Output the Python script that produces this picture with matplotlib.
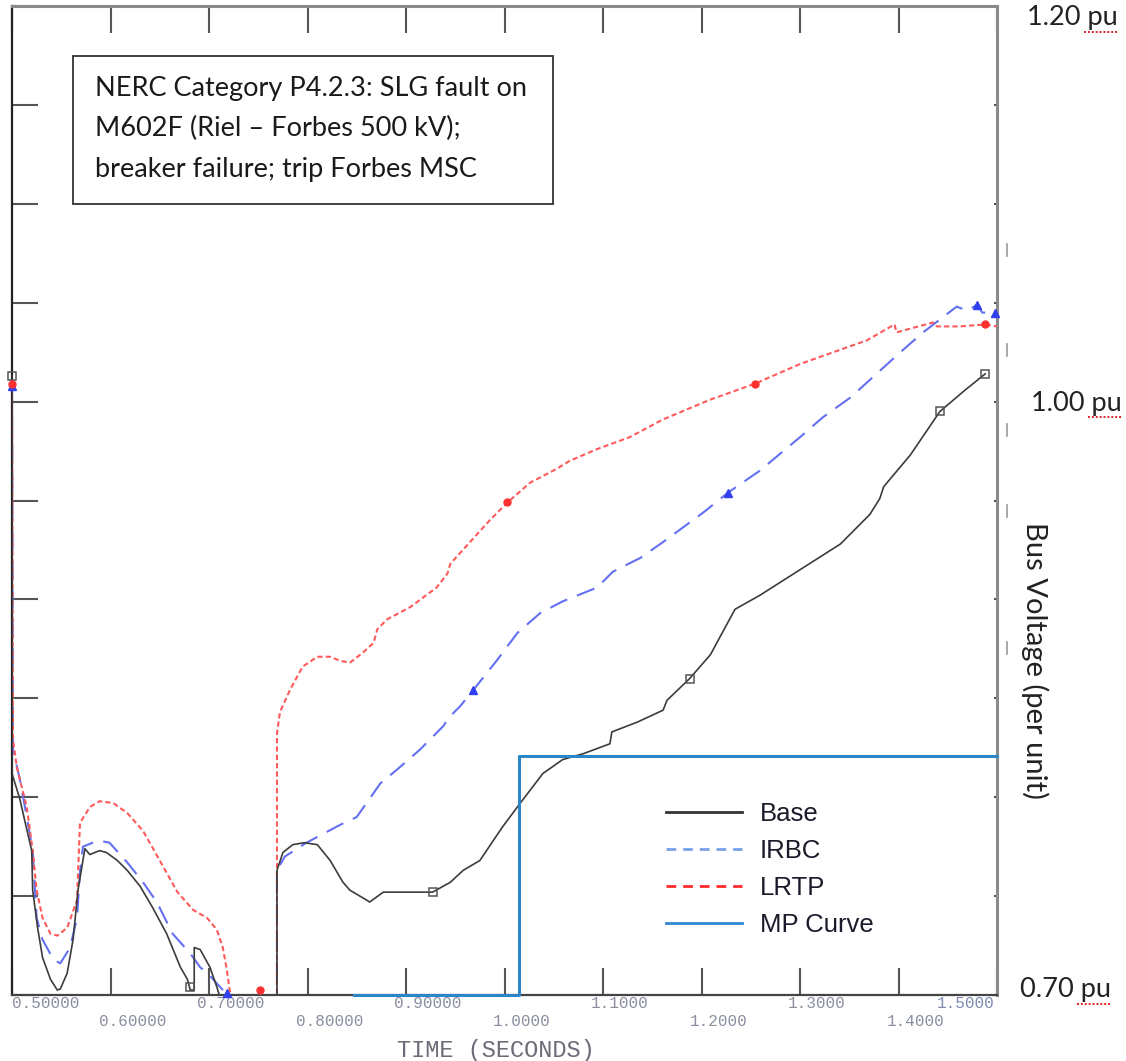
import matplotlib
matplotlib.use("Agg")
import matplotlib.pyplot as plt
from matplotlib.lines import Line2D
from matplotlib.patches import Rectangle

# values: time (s), bus voltage (pu)
base_t = [0.500, 0.500, 0.508, 0.513, 0.520, 0.521, 0.526, 0.531, 0.539, 0.546, 0.549,
          0.556, 0.562, 0.567, 0.571, 0.574, 0.579, 0.589, 0.596, 0.607, 0.617, 0.630,
          0.643, 0.657, 0.671, 0.678, 0.681, 0.685, 0.685, 0.691, 0.701, 0.708, 0.711,
          0.740, 0.769, 0.769, 0.775, 0.785, 0.797, 0.810, 0.823, 0.836, 0.843, 0.860,
          0.863, 0.877, 0.894, 0.911, 0.927, 0.945, 0.958, 0.975, 0.998, 1.016, 1.039,
          1.059, 1.080, 1.107, 1.109, 1.135, 1.161, 1.165, 1.188, 1.209, 1.234, 1.259,
          1.300, 1.341, 1.371, 1.381, 1.385, 1.412, 1.442, 1.468, 1.488]
base_v = [1.013, 0.812, 0.799, 0.788, 0.773, 0.753, 0.734, 0.719, 0.708, 0.7025, 0.703,
          0.711, 0.728, 0.753, 0.765, 0.774, 0.771, 0.773, 0.772, 0.768, 0.763, 0.755,
          0.744, 0.731, 0.714, 0.708, 0.7025, 0.7025, 0.724, 0.723, 0.714, 0.704, 0.699,
          0.690, 0.690, 0.763, 0.772, 0.776, 0.777, 0.776, 0.768, 0.757, 0.753, 0.748,
          0.747, 0.752, 0.752, 0.752, 0.752, 0.757, 0.763, 0.768, 0.785, 0.797, 0.812,
          0.819, 0.822, 0.827, 0.833, 0.838, 0.844, 0.849, 0.860, 0.872, 0.895, 0.902,
          0.915, 0.928, 0.943, 0.951, 0.957, 0.973, 0.995, 1.006, 1.014]

irbc_t = [0.500, 0.501, 0.508, 0.515, 0.521, 0.525, 0.531, 0.542, 0.549, 0.559, 0.566,
          0.569, 0.572, 0.582, 0.589, 0.599, 0.617, 0.633, 0.647, 0.663, 0.681, 0.691,
          0.699, 0.704, 0.714, 0.718, 0.740, 0.769, 0.769, 0.777, 0.799, 0.833, 0.850,
          0.874, 0.891, 0.914, 0.938, 0.943, 0.955, 0.968, 0.992, 1.013, 1.036, 1.059,
          1.094, 1.110, 1.138, 1.161, 1.202, 1.227, 1.259, 1.300, 1.323, 1.351, 1.402,
          1.425, 1.459, 1.470, 1.480, 1.485, 1.498]
irbc_v = [1.008, 0.824, 0.809, 0.790, 0.773, 0.739, 0.728, 0.718, 0.716, 0.724, 0.739,
          0.762, 0.775, 0.777, 0.778, 0.777, 0.767, 0.757, 0.747, 0.731, 0.721, 0.714,
          0.711, 0.708, 0.7025, 0.700, 0.690, 0.690, 0.763, 0.770, 0.777, 0.786, 0.790,
          0.807, 0.814, 0.824, 0.836, 0.840, 0.846, 0.854, 0.869, 0.883, 0.893, 0.899,
          0.906, 0.914, 0.921, 0.929, 0.944, 0.954, 0.965, 0.982, 0.992, 1.002, 1.025,
          1.035, 1.048, 1.046, 1.049, 1.045, 1.045]

lrtp_t = [0.500, 0.501, 0.505, 0.515, 0.521, 0.525, 0.531, 0.539, 0.546, 0.556, 0.566,
          0.569, 0.579, 0.589, 0.603, 0.617, 0.633, 0.650, 0.668, 0.684, 0.698, 0.708,
          0.714, 0.718, 0.721, 0.723, 0.745, 0.769, 0.769, 0.772, 0.782, 0.795, 0.810,
          0.823, 0.833, 0.843, 0.856, 0.867, 0.871, 0.881, 0.904, 0.931, 0.942, 0.945,
          0.965, 0.985, 1.003, 1.026, 1.053, 1.066, 1.094, 1.127, 1.161, 1.209, 1.254,
          1.300, 1.334, 1.368, 1.396, 1.398, 1.435, 1.439, 1.462, 1.488, 1.500]
lrtp_v = [1.009, 0.829, 0.815, 0.795, 0.773, 0.753, 0.739, 0.731, 0.730, 0.734, 0.748,
          0.787, 0.795, 0.798, 0.797, 0.792, 0.783, 0.768, 0.752, 0.743, 0.739, 0.733,
          0.724, 0.713, 0.7025, 0.699, 0.690, 0.690, 0.832, 0.843, 0.854, 0.866, 0.871,
          0.871, 0.869, 0.868, 0.873, 0.878, 0.885, 0.890, 0.896, 0.906, 0.913, 0.918,
          0.929, 0.940, 0.949, 0.959, 0.966, 0.970, 0.976, 0.982, 0.991, 1.001, 1.009,
          1.019, 1.025, 1.031, 1.039, 1.035, 1.040, 1.038, 1.038, 1.039, 1.038]

mp_t = [0.847, 1.015, 1.015, 1.500]
mp_v = [0.700, 0.700, 0.821, 0.821]

# plot markers along each trace
base_mk_t = [0.500, 0.681, 0.927, 1.188, 1.442, 1.488]
base_mk_v = [1.013, 0.704, 0.752, 0.860, 0.995, 1.014]
irbc_mk_t = [0.500, 0.718, 0.968, 1.227, 1.480, 1.498]
irbc_mk_v = [1.008, 0.701, 0.854, 0.954, 1.049, 1.045]
lrtp_mk_t = [0.500, 0.752, 1.003, 1.254, 1.488]
lrtp_mk_v = [1.009, 0.7025, 0.949, 1.009, 1.039]

x_ticks = [0.5, 0.6, 0.7, 0.8, 0.9, 1.0, 1.1, 1.2, 1.3, 1.4, 1.5]
x_labels = ["0.50000", "0.60000", "0.70000", "0.80000", "0.90000", "1.0000",
            "1.1000", "1.2000", "1.3000", "1.4000", "1.5000"]
y_ticks = [0.70, 0.75, 0.80, 0.85, 0.90, 0.95, 1.00, 1.05, 1.10, 1.15, 1.20]
pu_labels = ["1.20 pu", "1.00 pu", "0.70 pu"]
pu_rows = [18, 403, 990]
pu_left = [1027, 1031, 1020]

W, H = 1126, 1061
fig = plt.figure(figsize=(W / 100, H / 100), dpi=100)
fig.patch.set_facecolor("white")


def fx(px):
    return px / W


def fy(py):
    return 1 - py / H


ax = fig.add_axes([fx(12), fy(995), fx(985), 989 / H])
ax.set_xlim(0.5, 1.5)
ax.set_ylim(0.7, 1.2)

ax.plot(base_t, base_v, color="#3c3c3c", lw=1.2, zorder=4)
ax.plot(irbc_t, irbc_v, color="#6470f2", lw=1.5, ls=(0, (9, 5)), zorder=3)
ax.plot(lrtp_t, lrtp_v, color="#ff5a5a", lw=1.5, ls=(0, (2.5, 1.5)), zorder=3)
ax.plot(mp_t, mp_v, color="#2b86c8", lw=2.2, zorder=5, clip_on=False)

ax.plot(base_mk_t, base_mk_v, ls="none", marker="s", ms=6, mfc="none",
        mec="#555555", mew=1.1, zorder=6, clip_on=False)
ax.plot(irbc_mk_t, irbc_mk_v, ls="none", marker="^", ms=6, mfc="#3040f0",
        mec="#3040f0", zorder=6, clip_on=False)
ax.plot(lrtp_mk_t, lrtp_mk_v, ls="none", marker="o", ms=5, mfc="#ff3030",
        mec="#ff3030", zorder=6, clip_on=False)

ax.set_xticks(x_ticks)
ax.set_yticks(y_ticks)
ax.tick_params(axis="x", direction="in", top=True, bottom=True, length=19.5,
               width=1.5, color="#555555", labelbottom=False)
ax.tick_params(axis="y", direction="in", left=True, right=True, length=18.5,
               width=1.5, color="#555555", labelleft=False)
for tick in ax.yaxis.get_major_ticks():
    if tick.get_loc() < 0.84:
        tick.tick2line.set_markersize(2)

for side, col, lw in [("left", "#222222", 1.6), ("bottom", "#444444", 1.6),
                      ("top", "#8a8a8a", 2.2), ("right", "#8a8a8a", 2.2)]:
    ax.spines[side].set_color(col)
    ax.spines[side].set_linewidth(lw)

# x tick labels, staggered in two rows like the source plot
xtr = ax.get_xaxis_transform()
for i, (xv, lab) in enumerate(zip(x_ticks, x_labels)):
    row_y = (995 - 1004) / 989 if i % 2 == 0 else (995 - 1021) / 989
    if i == 0:
        ax.text(xv, row_y, lab, transform=xtr, ha="left", va="center",
                family="Liberation Mono", fontsize=11.5, color="#8a8ea0")
    elif i == len(x_ticks) - 1:
        ax.text(xv - 0.002, row_y, lab, transform=xtr, ha="right", va="center",
                family="Liberation Mono", fontsize=11.5, color="#7f8cb0")
    else:
        ax.text(xv - 0.012, row_y, lab, transform=xtr, ha="left", va="center",
                family="Liberation Mono", fontsize=11.5, color="#8a8ea0")

fig.text(fx(496), fy(1050), "TIME (SECONDS)", ha="center", va="center",
         family="Liberation Mono", fontsize=17, color="#6c6c78")

# right-hand annotations
for lab, row, left in zip(pu_labels, pu_rows, pu_left):
    fig.text(fx(left), fy(row), lab, ha="left", va="center", family="Lato",
             fontsize=19.5, color="#222222")
    fig.add_artist(Line2D([fx(left + 57), fx(left + 92)], [fy(row + 14), fy(row + 14)],
                          color="#e02020", lw=1.4, ls=(0, (1, 1))))

fig.text(fx(1035), fy(660), "Bus Voltage (per unit)", ha="center", va="center",
         rotation=270, family="Lato", fontsize=21, color="#222222")

for yy in [250, 350, 430, 511, 648]:
    fig.add_artist(Line2D([fx(1007), fx(1007)], [fy(yy - 6), fy(yy + 6)],
                          color="#999999", lw=1.2))

# case description box
fig.add_artist(Rectangle((fx(73), fy(204)), fx(480), 148 / H, fill=False,
                         edgecolor="#333333", lw=1.3))
fig.text(fx(95), fy(76), "NERC Category P4.2.3: SLG fault on\n"
         "M602F (Riel \u2013 Forbes 500 kV);\n"
         "breaker failure; trip Forbes MSC", ha="left", va="top",
         family="Lato", fontsize=19.5, color="#1a1a1a", linespacing=1.76)

handles = [
    Line2D([], [], color="#333333", lw=2),
    Line2D([], [], color="#7aa0e8", lw=2, ls=(0, (3.5, 2.5))),
    Line2D([], [], color="#ff2a2a", lw=2, ls=(0, (3.5, 2.5))),
    Line2D([], [], color="#3088d0", lw=2),
]
leg = ax.legend(handles, ["Base", "IRBC", "LRTP", "MP Curve"],
                loc="upper left", bbox_to_anchor=(fx(666), fy(802)),
                bbox_transform=fig.transFigure, frameon=False, borderpad=0,
                borderaxespad=0, handlelength=2.95, handletextpad=0.7,
                labelspacing=0.5, prop={"family": "Liberation Sans", "size": 18.5})
for t in leg.get_texts():
    t.set_color("#1a1a2a")

fig.savefig("out.png", dpi=100)
